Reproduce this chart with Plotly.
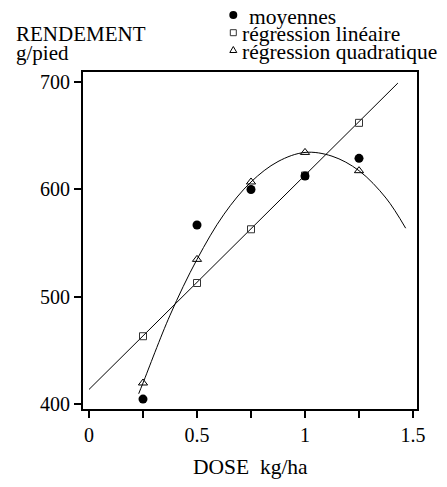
import plotly.graph_objects as go

# ---- data ----
dose = [0.25, 0.5, 0.75, 1.0, 1.25]
moyennes = [405, 567, 600, 612.5, 629]
reg_lin = [463.5, 513, 563, 613, 662]
reg_quad = [420, 535, 607, 634.5, 617.5]

# fitted curves as drawn
lin_curve_x = [0.0, 1.43]
lin_curve_y = [414, 699]
quad_curve_x = [0.23, 0.25, 0.375, 0.5, 0.625, 0.75, 0.875, 1.0, 1.125, 1.25, 1.375, 1.466]
quad_curve_y = [410, 420, 483, 535, 577, 607, 626, 634.5, 631, 617.5, 592, 564]

x_ticks = [0, 0.25, 0.5, 0.75, 1.0, 1.25, 1.5]
x_ticktext = ["0", "", "0.5", "", "1", "", "1.5"]
y_ticks = [400, 500, 600, 700]

legend_labels = ["moyennes", "régression linéaire", "régression quadratique"]

FONT = "'Liberation Serif', 'Times New Roman', serif"
W, H = 447, 487
L, R, T, B = 83, 30, 72, 78
PW, PH = W - L - R, H - T - B


def px(x):
    return (x - L) / PW


def py(y):
    return (H - B - y) / PH


fig = go.Figure()
fig.add_trace(go.Scatter(x=lin_curve_x, y=lin_curve_y, mode="lines",
                         line=dict(color="black", width=1), hoverinfo="skip"))
fig.add_trace(go.Scatter(x=quad_curve_x, y=quad_curve_y, mode="lines",
                         line=dict(color="black", width=1, shape="spline", smoothing=1.0),
                         hoverinfo="skip"))
fig.add_trace(go.Scatter(x=dose, y=reg_lin, mode="markers", name=legend_labels[1],
                         marker=dict(symbol="square-open", size=7, color="#333",
                                     line=dict(width=1, color="#333"))))
fig.add_trace(go.Scatter(x=dose, y=reg_quad, mode="markers", name=legend_labels[2],
                         marker=dict(symbol="triangle-up-open", size=8, color="black",
                                     line=dict(width=1, color="black"))))
fig.add_trace(go.Scatter(x=dose, y=moyennes, mode="markers", name=legend_labels[0],
                         marker=dict(symbol="circle", size=9, color="black")))

axis_common = dict(showline=True, linecolor="black", linewidth=2, mirror=True,
                   ticks="outside", ticklen=7, tickwidth=1.5, tickcolor="black",
                   showgrid=False, zeroline=False,
                   tickfont=dict(family=FONT, size=20, color="black"))

fig.update_xaxes(range=[-0.0278, 1.5185], tickvals=x_ticks, ticktext=x_ticktext,
                 **axis_common)
fig.update_yaxes(range=[395.8, 709.3], tickvals=y_ticks, **axis_common)

annotations = []


def txt(text, x, y, size=21, xanchor="left"):
    annotations.append(dict(text=text, x=px(x), y=py(y), xref="paper", yref="paper",
                            xanchor=xanchor, yanchor="middle", showarrow=False,
                            borderpad=0, borderwidth=0,
                            font=dict(family=FONT, size=size, color="black")))


txt("RENDEMENT", 16, 33.7)
txt("g/pied", 16, 53)
txt("DOSE  kg/ha", 250, 466.7, size=21.5, xanchor="center")
txt(legend_labels[0], 248.5, 16.8, size=21.5)
txt(legend_labels[1], 241.8, 34.4, size=21.5)
txt(legend_labels[2], 241.8, 52, size=21.5)

shapes = [
    dict(type="circle", xref="paper", yref="paper", xsizemode="pixel", ysizemode="pixel",
         xanchor=px(233.3), yanchor=py(15), x0=-4, x1=4, y0=-4, y1=4,
         fillcolor="black", line=dict(width=0)),
    dict(type="rect", xref="paper", yref="paper", xsizemode="pixel", ysizemode="pixel",
         xanchor=px(233.3), yanchor=py(32.7), x0=-3, x1=3, y0=-3, y1=3,
         line=dict(width=1, color="#333")),
    dict(type="path", xref="paper", yref="paper", xsizemode="pixel", ysizemode="pixel",
         xanchor=px(233.3), yanchor=py(50), path="M-3.5,-2.5 L3.5,-2.5 L0,3.5 Z",
         line=dict(width=1, color="black")),
]

fig.update_layout(width=W, height=H, margin=dict(l=L, r=R, t=T, b=B),
                  plot_bgcolor="white", paper_bgcolor="white", showlegend=False,
                  annotations=annotations, shapes=shapes,
                  font=dict(family=FONT, color="black"))

fig.write_html("out.html",
               config={"displayModeBar": False},
               post_script="document.body.style.margin='0';"
                           "document.body.style.overflow='hidden';")
